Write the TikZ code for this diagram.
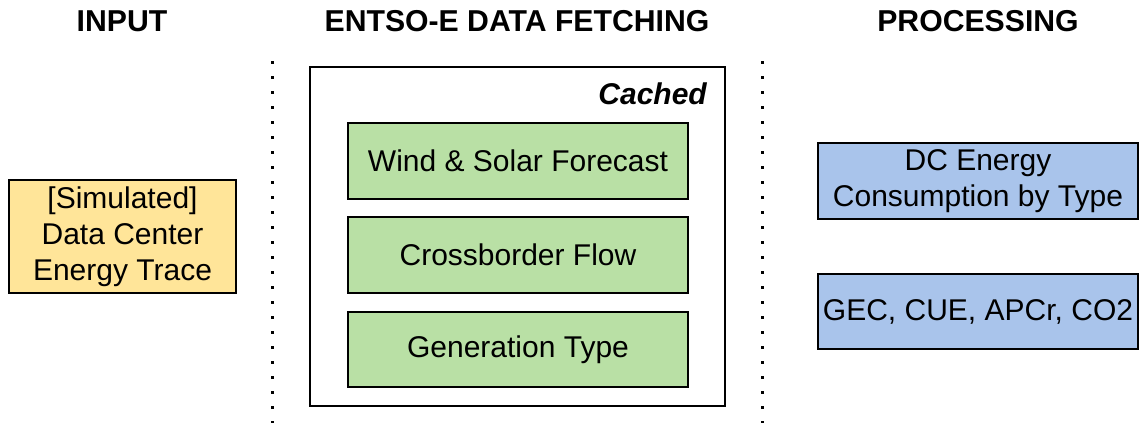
\documentclass[tikz,border=0pt]{standalone}
\usepackage{fontspec}
\setmainfont{Liberation Sans}
\begin{document}
\begin{tikzpicture}[x=1pt,y=-1pt,
  box/.style={draw=black,line width=1.6pt,inner sep=0pt,align=center,font=\fontsize{30}{36}\selectfont},
  ybox/.style={box,fill={rgb,255:red,255;green,229;blue,153}},
  gbox/.style={box,fill={rgb,255:red,185;green,224;blue,165}},
  bbox/.style={box,fill={rgb,255:red,169;green,196;blue,235}},
  title/.style={font=\fontsize{30.2}{36}\selectfont\bfseries,anchor=base},
  sep/.style={line width=3pt,dash pattern=on 3pt off 12pt}]
\useasboundingbox (0,0) rectangle (1140,423);
% titles
\node[title] (tin) at (122,31) {INPUT};
\node[title] (tfetch) at (517,31) {ENTSO-E DATA FETCHING};
\node[title] (tproc) at (978,31) {PROCESSING};
% separators
\coordinate (s1a) at (272,61); \coordinate (s1b) at (272,423);
\coordinate (s2a) at (762,61); \coordinate (s2b) at (762,423);
\draw[sep] (s1a) -- (s1b);
\draw[sep] (s2a) -- (s2b);
% input
\node[ybox,minimum width=227pt,minimum height=113pt] (input) at (122.5,236.5) {[Simulated]\\Data Center\\Energy Trace};
% fetching container
\node[draw=black,line width=1.6pt,minimum width=415pt,minimum height=339pt,inner sep=0pt] (cache) at (517.5,236.5) {};
\node[anchor=base east,font=\fontsize{30}{36}\selectfont\bfseries\itshape,inner sep=0pt] (cachedlbl) at (707,104) {Cached};
\node[gbox,minimum width=340pt,minimum height=76pt] (wind) at (518,161) {Wind \& Solar Forecast};
\node[gbox,minimum width=340pt,minimum height=76pt] (flow) at (518,255) {Crossborder Flow};
\node[gbox,minimum width=340pt,minimum height=75pt] (gen) at (518,349.5) {Generation Type};
% processing
\node[bbox,minimum width=320pt,minimum height=76pt] (dc) at (978,181) {DC Energy\\Consumption by Type};
\node[bbox,minimum width=320pt,minimum height=75pt] (gec) at (978,311.5) {GEC, CUE, APCr, CO2};
\end{tikzpicture}
\end{document}
